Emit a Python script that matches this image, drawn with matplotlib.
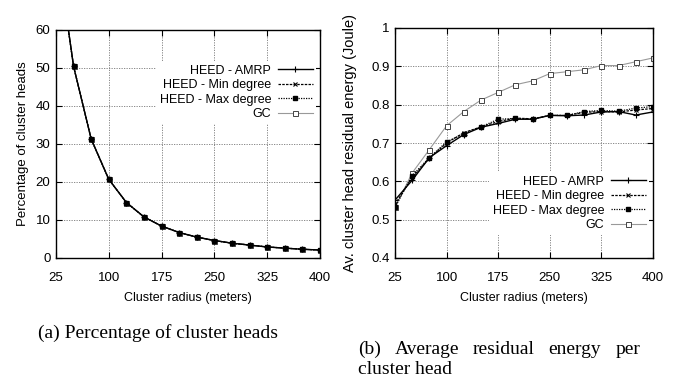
import matplotlib
matplotlib.use("Agg")
import matplotlib.pyplot as plt

plt.rcParams['font.family'] = ['Liberation Sans', 'DejaVu Sans']

radius = [25, 50, 75, 100, 125, 150, 175, 200, 225, 250, 275, 300, 325, 350, 375, 400]
ticks_x = [25, 100, 175, 250, 325, 400]

# percentage of cluster heads (all four schemes overlap)
ch_amrp = [83, 50.4, 31.3, 20.7, 14.6, 10.8, 8.4, 6.7, 5.5, 4.6, 3.9, 3.4, 2.9, 2.6, 2.3, 2.1]
ch_min = [83, 50.4, 31.3, 20.7, 14.6, 10.8, 8.4, 6.7, 5.5, 4.6, 3.9, 3.4, 2.9, 2.6, 2.3, 2.1]
ch_max = [83, 50.4, 31.3, 20.7, 14.6, 10.8, 8.4, 6.7, 5.5, 4.6, 3.9, 3.4, 2.9, 2.6, 2.3, 2.1]
ch_gc = [83, 50.4, 31.3, 20.7, 14.6, 10.8, 8.4, 6.7, 5.5, 4.6, 3.9, 3.4, 2.9, 2.6, 2.3, 2.1]

# average residual energy per cluster head
en_amrp = [0.551, 0.603, 0.662, 0.693, 0.722, 0.741, 0.751, 0.762, 0.762, 0.772, 0.771, 0.773, 0.781, 0.782, 0.773, 0.781]
en_min = [0.540, 0.610, 0.660, 0.700, 0.727, 0.742, 0.756, 0.765, 0.763, 0.772, 0.772, 0.780, 0.782, 0.781, 0.786, 0.790]
en_max = [0.532, 0.615, 0.662, 0.703, 0.724, 0.742, 0.762, 0.764, 0.762, 0.772, 0.772, 0.782, 0.785, 0.783, 0.791, 0.795]
en_gc = [0.532, 0.622, 0.683, 0.745, 0.782, 0.812, 0.832, 0.852, 0.862, 0.881, 0.886, 0.891, 0.902, 0.902, 0.912, 0.922]

names = ['HEED - AMRP', 'HEED - Min degree', 'HEED - Max degree', 'GC']

W, H = 674, 379
fig = plt.figure(figsize=(W / 100, H / 100), dpi=100)


def px_axes(x0, y0, x1, y1):
    return fig.add_axes([x0 / W, 1 - y1 / H, (x1 - x0) / W, (y1 - y0) / H])


def draw(ax, series, ylim, yticks, ylabel, legend_y, ypad, ysize):
    styles = [
        dict(color='black', ls='-', lw=1.0, marker='+', ms=4, mew=0.8, zorder=3),
        dict(color='black', ls=(0, (2, 1)), lw=0.9, marker='x', ms=3, mew=0.8, zorder=3),
        dict(color='black', ls=(0, (1, 1)), lw=0.9, marker='s', ms=2.6, zorder=4),
        dict(color='#999999', ls='-', lw=0.8, marker='s', ms=3.6, mfc='white', mec='#444444',
             mew=0.7, zorder=2),
    ]
    for ys, name, st in zip(series, names, styles):
        ax.plot(radius, ys, label=name, **st)
    ax.set_xlim(25, 400)
    ax.set_ylim(*ylim)
    ax.set_xticks(ticks_x)
    ax.set_yticks(yticks)
    ax.grid(True, color='#777777', ls=(0, (1.5, 1.5)), lw=0.6)
    ax.tick_params(direction='in', top=True, right=True, length=4, width=0.8,
                   labelsize=9.5)
    ax.tick_params(axis='x', pad=10)
    ax.tick_params(axis='y', pad=4)
    for s in ax.spines.values():
        s.set_linewidth(1.0)
    ax.set_xlabel('Cluster radius (meters)', fontsize=9, labelpad=6)
    ax.set_ylabel(ylabel, fontsize=ysize, labelpad=ypad)
    leg = ax.legend(loc='upper right', bbox_to_anchor=(1.0, legend_y), markerfirst=False,
                    frameon=True, fancybox=False, edgecolor='none', facecolor='white',
                    framealpha=1, fontsize=9, handlelength=2.8, handletextpad=0.5,
                    labelspacing=0.2, borderpad=0.3, borderaxespad=0.3)
    leg.set_zorder(5)


ax1 = px_axes(56, 30, 320, 258)
draw(ax1, [ch_amrp, ch_min, ch_max, ch_gc], (0, 60), [0, 10, 20, 30, 40, 50, 60],
     'Percentage of cluster heads', 0.88, 5, 9.5)

ax2 = px_axes(395, 28, 653, 258)
draw(ax2, [en_amrp, en_min, en_max, en_gc], (0.4, 1.0), [0.4, 0.5, 0.6, 0.7, 0.8, 0.9, 1.0],
     'Av. cluster head residual energy (Joule)', 0.39, 10, 10.5)
ax2.set_yticklabels(['0.4', '0.5', '0.6', '0.7', '0.8', '0.9', '1'])

serif = ['Liberation Serif', 'DejaVu Serif']
fig.text(38 / W, 1 - 333 / H, '(a) Percentage of cluster heads', family=serif,
         fontsize=14, va='center', ha='left')

# justified first line of caption (b)
words = ['(b)', 'Average', 'residual', 'energy', 'per']
x_left, x_right = 358, 640
renderer = fig.canvas.get_renderer()
texts = [fig.text(0, 1 - 349 / H, w, family=serif, fontsize=14, va='center', ha='left')
         for w in words]
widths = [t.get_window_extent(renderer).width for t in texts]
gap = (x_right - x_left - sum(widths)) / (len(words) - 1)
x = x_left
for t, w in zip(texts, widths):
    t.set_x(x / W)
    x += w + gap
fig.text(x_left / W, 1 - 369 / H, 'cluster head', family=serif, fontsize=14,
         va='center', ha='left')

fig.savefig('out.png', dpi=100)
